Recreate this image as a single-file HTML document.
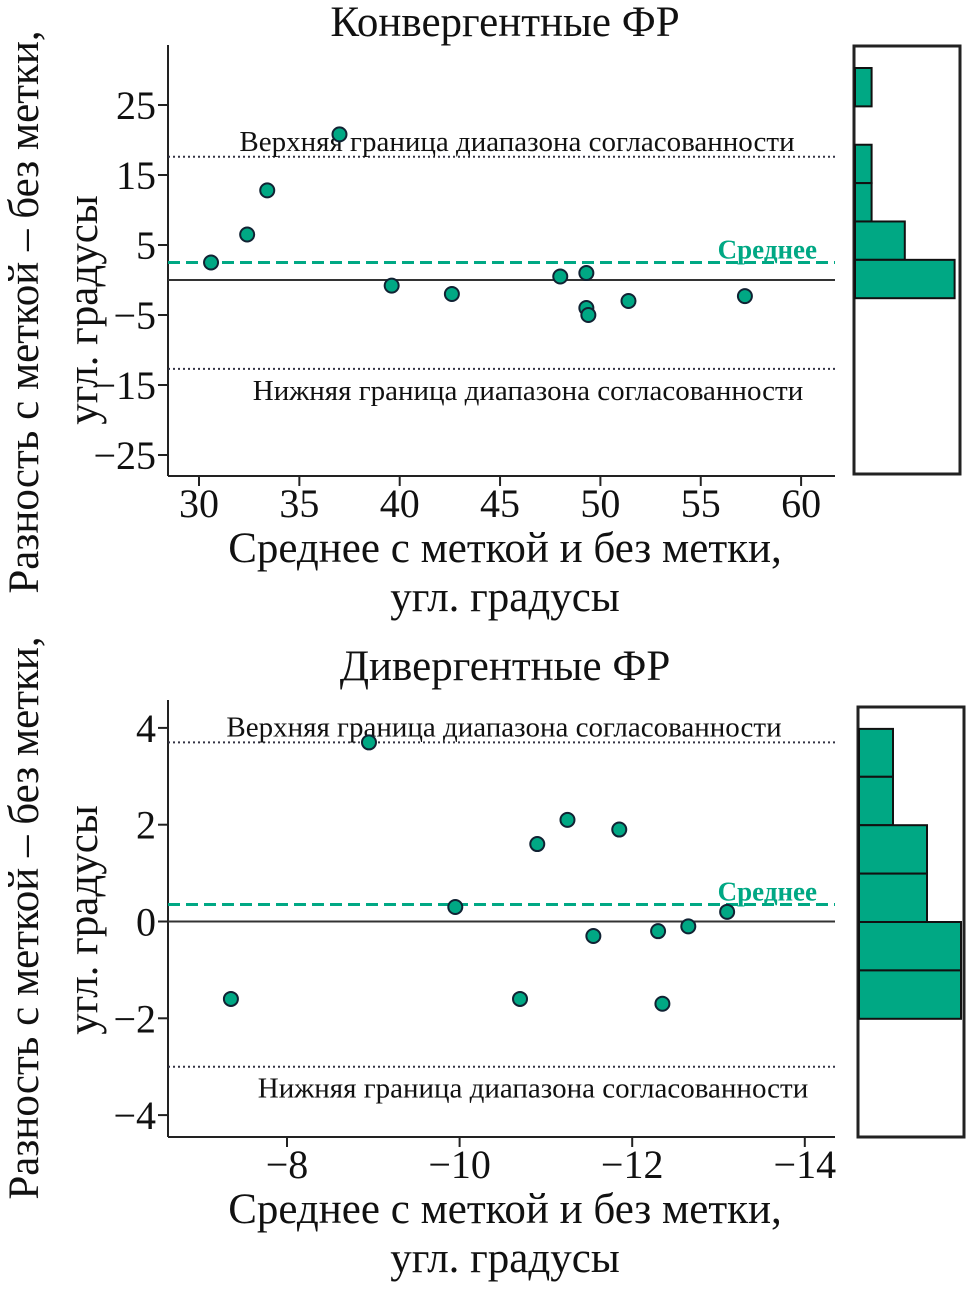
<!DOCTYPE html>
<html><head><meta charset="utf-8"><style>
body{margin:0;background:#fff}
svg text{font-family:"Liberation Serif",serif;fill:#111}
</style></head><body>
<svg id="s" width="976" height="1286" xmlns="http://www.w3.org/2000/svg"></svg>
<script>
const topX=[30.6,32.4,33.4,37.0,39.6,42.6,48.0,49.3,49.3,49.4,51.4,57.2];
const topY=[2.5,6.5,12.8,20.8,-0.8,-2.0,0.5,1.0,-4.0,-5.0,-3.0,-2.3];
const topMean=2.5, topUpper=17.6, topLower=-12.7;
const topXTicks=[30,35,40,45,50,55,60];
const topYTicks=[25,15,5,-5,-15,-25];
const topHistCounts=[1,0,1,1,3,6];
const topHistEdges=[25.3,19.85,14.4,8.95,3.5,-1.95,-7.4];
const botX=[-7.35,-8.95,-9.95,-10.7,-10.9,-11.25,-11.55,-11.85,-12.3,-12.35,-12.65,-13.1];
const botY=[-1.6,3.7,0.3,-1.6,1.6,2.1,-0.3,1.9,-0.2,-1.7,-0.1,0.2];
const botMean=0.35, botUpper=3.7, botLower=-3.0;
const botXTicks=[-8,-10,-12,-14];
const botYTicks=[4,2,0,-2,-4];
const botHistCounts=[1,1,2,2,3,3];
const botHistEdges=[3.99,3.0,2.0,1.0,0.0,-1.0,-2.0];

const S=document.getElementById('s');const NS='http://www.w3.org/2000/svg';
function el(t,a,txt){const e=document.createElementNS(NS,t);for(const k in a)e.setAttribute(k,a[k]);if(txt!==undefined)e.textContent=txt;S.appendChild(e);return e;}
const G='#00a884';
function panel(cfg){
 const xs=v=>cfg.x0+(v-cfg.xa)*cfg.kx, ys=v=>cfg.y0-v*cfg.ky;
 let e;
 e=el('text',{x:505,y:cfg.titleY,'font-size':43,'text-anchor':'middle'},cfg.title);
 
 e=el('line',{x1:168,y1:cfg.axTop,x2:168,y2:cfg.axBot,stroke:'#222','stroke-width':2});
 
 e=el('line',{x1:168,y1:cfg.axBot,x2:835,y2:cfg.axBot,stroke:'#222','stroke-width':2});
 
 cfg.xt.forEach(v=>{const X=xs(v);el('line',{x1:X,y1:cfg.axBot,x2:X,y2:cfg.axBot+10,stroke:'#222','stroke-width':2});
  e=el('text',{x:X,y:cfg.axBot+41,'font-size':40,'text-anchor':'middle'},v<0?'\u2212'+(-v):v);
  });
 cfg.yt.forEach(v=>{const Y=ys(v);el('line',{x1:158,y1:Y,x2:168,y2:Y,stroke:'#222','stroke-width':2});
  e=el('text',{x:156,y:Y+14,'font-size':40,'text-anchor':'end'},v<0?'\u2212'+(-v):v);
  });
 e=el('line',{x1:168,y1:ys(0),x2:835,y2:ys(0),stroke:'#333','stroke-width':2});
 
 e=el('line',{x1:168,y1:ys(cfg.mean),x2:835,y2:ys(cfg.mean),stroke:G,'stroke-width':3,'stroke-dasharray':'12,6'});
 
 e=el('text',{x:817,y:ys(cfg.mean)-4,'font-size':27,'font-weight':'bold','text-anchor':'end',style:'fill:'+G},'Среднее');
 
 [['upper',cfg.up,'Верхняя граница диапазона согласованности',cfg.upTx],['lower',cfg.lo,'Нижняя граница диапазона согласованности',cfg.loTx]].forEach(a=>{
  e=el('line',{x1:168,y1:ys(a[1]),x2:835,y2:ys(a[1]),stroke:'#334','stroke-width':2,'stroke-dasharray':'2,3'});
  
  e=el('text',{x:a[3],y:ys(a[1])+(a[0]=='upper'?-6:31),'font-size':29,'text-anchor':'middle'},a[2]);
  });
 cfg.X.forEach((v,i)=>{e=el('circle',{cx:xs(v),cy:ys(cfg.Y[i]),r:7,fill:G,stroke:'#123','stroke-width':2});
  });
 e=el('text',{x:505,y:cfg.axBot+86,'font-size':43,'text-anchor':'middle'},'Среднее с меткой и без метки,');
 
 el('text',{x:505,y:cfg.axBot+135,'font-size':43,'text-anchor':'middle'},'угл. градусы');
 e=el('text',{x:0,y:0,'font-size':43,'text-anchor':'middle',transform:`translate(38,${cfg.ylabC}) rotate(-90)`},'Разность с меткой – без метки,');
 
 el('text',{x:0,y:0,'font-size':43,'text-anchor':'middle',transform:`translate(97,${cfg.ylabC2}) rotate(-90)`},'угл. градусы');
 const h=cfg.h;
 e=el('rect',{x:h.x,y:h.y,width:h.w,height:h.hh,fill:'none',stroke:'#222','stroke-width':3});
 
 cfg.hc.forEach((c,i)=>{if(!c)return;const y1=h.ys(cfg.he[i]),y2=h.ys(cfg.he[i+1]);
  e=el('rect',{x:h.x+1,y:y1,width:c*h.kc,height:y2-y1,fill:G,stroke:'#111','stroke-width':2});
  });
}
panel({p:'convergent',title:'Конвергентные ФР',titleY:36,x0:199,xa:30,kx:20.07,y0:280,ky:7,axTop:45,axBot:476,
 xt:topXTicks,yt:topYTicks,mean:topMean,up:topUpper,lo:topLower,upTx:517,loTx:528,X:topX,Y:topY,ylabC:312,ylabC2:310,
 h:{x:854,y:46,w:106,hh:428,kc:16.6,ys:v=>68+(25.3-v)*7.04},hc:topHistCounts,he:topHistEdges});
panel({p:'divergent',title:'Дивергентные ФР',titleY:680,x0:287,xa:-8,kx:-86.3,y0:921.5,ky:48.4,axTop:700,axBot:1137,
 xt:botXTicks,yt:botYTicks,mean:botMean,up:botUpper,lo:botLower,upTx:504,loTx:533,X:botX,Y:botY,ylabC:918,ylabC2:920,
 h:{x:858,y:707,w:106,hh:430,kc:34,ys:v=>922-v*48.4},hc:botHistCounts,he:botHistEdges});
</script>
</body></html>
